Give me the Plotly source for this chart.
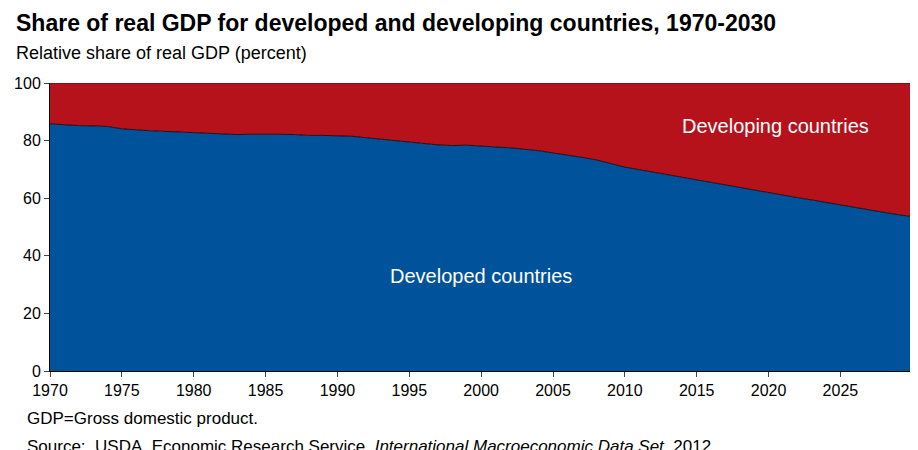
import plotly.graph_objects as go

years = list(range(1970, 2031))
developed = [85.8, 85.4, 85.2, 85.1, 84.9, 84.1, 83.7, 83.4, 83.2, 83.0,
             82.7, 82.4, 82.2, 82.1, 82.2, 82.3, 82.2, 82.1, 81.8, 81.8,
             81.7, 81.5, 81.0, 80.5, 79.9, 79.5, 79.1, 78.5, 78.3, 78.4,
             78.1, 77.9, 77.5, 77.0, 76.5, 75.7, 75.0, 74.2, 73.3, 72.0,
             70.8, 69.9, 69.0, 68.1, 67.2, 66.3, 65.4, 64.6, 63.7, 62.8,
             61.9, 61.1, 60.2, 59.4, 58.5, 57.6, 56.8, 55.9, 55.1, 54.3, 53.6]
developing = [round(100 - v, 1) for v in developed]
tick_years = list(range(1970, 2031, 5))

F = "Liberation Sans, Arial, sans-serif"
fig = go.Figure()
fig.add_trace(go.Scatter(x=years, y=developed, stackgroup="a", mode="lines",
                         line=dict(color="black", width=0.8), fillcolor="#00529B", name="Developed countries"))
fig.add_trace(go.Scatter(x=years, y=developing, stackgroup="a", mode="lines",
                         line=dict(color="black", width=0.5), fillcolor="#B5121B", name="Developing countries"))
fig.update_layout(
    width=918, height=450, showlegend=False, plot_bgcolor="white", paper_bgcolor="white",
    margin=dict(l=42, r=13, t=75, b=87, autoexpand=False), font=dict(family=F, size=16, color="black"),
    xaxis=dict(range=[1970, 2030.05], tickvals=tick_years, ticks="outside", ticklen=5, automargin=False,
               showline=True, linecolor="black", showgrid=False, zeroline=False),
    yaxis=dict(range=[0, 100], tickvals=[0, 20, 40, 60, 80, 100], ticks="outside", ticklen=5, automargin=False,
               showline=True, linecolor="black", showgrid=False, zeroline=False, mirror=True),
    annotations=[
        dict(text="<b>Share of real GDP for developed and developing countries, 1970-2030</b>",
             xref="paper", yref="paper", x=-0.042, y=1.0, yshift=60, xanchor="left", yanchor="middle",
             showarrow=False, font=dict(size=23)),
        dict(text="Relative share of real GDP (percent)", xref="paper", yref="paper",
             x=-0.042, y=1.0, yshift=30, xanchor="left", yanchor="middle", showarrow=False, font=dict(size=18)),
        dict(text="Developed countries", x=2000, y=33, showarrow=False, font=dict(size=20, color="white")),
        dict(text="Developing countries", x=2020.5, y=85, showarrow=False, font=dict(size=20, color="white")),
        dict(text="GDP=Gross domestic product.", xref="paper", yref="paper", x=-0.029, y=0,
             yshift=-47, xanchor="left", yanchor="middle", showarrow=False, font=dict(size=17)),
        dict(text="Source:  USDA, Economic Research Service, <i>International Macroeconomic Data Set</i>, 2012",
             xref="paper", yref="paper", x=-0.029, y=0, yshift=-75, xanchor="left", yanchor="middle",
             showarrow=False, font=dict(size=17)),
    ],
)
fig.write_html("out.html")
